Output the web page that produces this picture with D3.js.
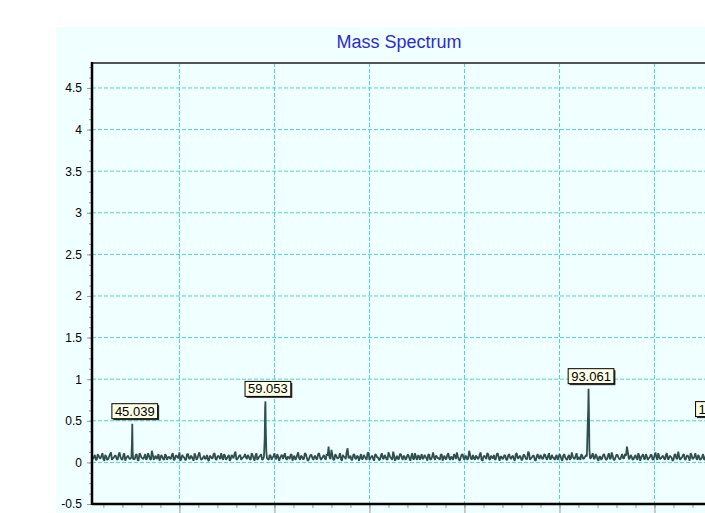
<!DOCTYPE html>
<html lang="en">
<head>
	<title>Mass Spectrum</title>
	<script src="https://d3js.org/d3.v7.min.js" charset="utf-8"></script>
	<style>
	body { margin: 0; background: #ffffff; }
	text {
		font-family: "Liberation Sans", Arial, sans-serif;
	}
	</style>
</head>
<body>
	<script>
	// Noise baseline (in hundredths). Two interleaved reading sets:
	// set A at 40.9 + 0.2*i, set B at 41.0 + 0.2*i
	var noiseStartA = 40.9;
	var noiseStartB = 41.0;
	var noiseStep = 0.2;
	var noiseValuesA = [
		4,9,3,8,5,11,2,7,4,10,3,6,8,3,12,4,9,2,7,5,
		3,8,4,10,2,9,5,7,3,11,4,14,3,8,6,2,9,4,10,3,
		7,4,11,3,8,5,2,9,6,3,10,4,7,2,8,5,12,3,6,4,
		9,2,7,5,11,3,8,4,6,10,3,7,2,9,5,13,4,8,3,6,
		10,4,7,3,9,2,11,5,8,3,6,12,4,9,3,7,5,10,2,8,
		4,11,3,6,9,2,8,5,12,3,7,4,10,2,6,9,3,8,4,11,
		3,7,5,10,19,4,9,3,8,5,11,2,7,4,17,6,3,9,5,8,
		2,10,4,7,3,12,5,8,2,9,6,3,11,4,7,3,9,5,13,2,
		8,4,10,3,7,5,9,2,11,4,6,8,3,10,5,7,2,9,4,12,
		3,7,5,9,2,8,4,11,3,6,10,4,7,2,9,5,8,3,14,4,
		9,3,7,5,12,2,8,4,10,3,6,9,4,11,2,7,5,8,3,10,
		4,8,2,11,5,7,3,9,4,13,3,6,8,2,10,4,7,5,9,3,
		11,4,6,3,9,5,8,2,10,4,7,3,12,5,8,3,6,10,4,7,
		3,9,5,11,4,8,2,7,5,10,3,8,4,12,3,6,9,4,7,5,
		10,19,4,9,3,7,5,11,2,8,4,10,3,6,9,4,12,3,7,5,
		8,3,11,4,7,2,9,5,13,3,6,10,4,8,2,9,5,11,3,7,
		4,10,3,8,5,12,2,7,4,9,3,11,5,6,8,3,10,4,7,5
	];
	var noiseValuesB = [
		6,3,10,5,8,4,9,3,7,12,5,8,4,9,6,3,11,5,8,4,
		7,5,9,3,11,6,4,10,5,8,3,9,6,4,10,5,7,3,8,6,
		5,9,3,8,6,12,4,7,3,10,5,8,4,11,3,9,6,4,8,5,
		3,8,5,10,4,7,6,11,3,8,5,9,4,7,10,3,6,9,5,7,
		6,9,4,11,5,8,3,7,10,4,9,5,3,8,6,11,4,7,5,9,
		8,5,7,4,10,6,3,9,5,8,4,11,6,3,9,5,7,4,10,6,
		5,9,3,8,6,15,3,10,5,7,4,9,6,12,5,8,3,10,4,7,
		6,4,9,5,11,3,7,4,10,6,3,8,5,9,4,12,6,3,8,5,
		4,10,6,8,3,9,5,7,4,11,3,8,6,4,9,5,10,3,7,6,
		8,5,3,10,6,4,9,5,7,3,8,12,4,6,10,3,7,5,9,4,
		5,8,4,9,3,7,6,11,4,8,5,3,10,6,7,4,9,3,8,6,
		7,4,10,5,8,3,9,6,4,11,5,8,3,7,6,9,4,10,5,8,
		4,9,5,7,3,10,4,8,6,3,9,5,7,4,11,6,3,8,5,9,
		6,3,8,5,10,4,7,3,9,6,4,11,5,8,3,9,6,4,10,5,
		8,12,5,7,4,9,3,8,6,10,4,7,5,9,3,8,6,11,4,7,
		5,9,4,8,6,3,10,4,7,5,9,3,8,6,11,4,7,5,9,3,
		6,4,9,5,7,3,10,6,4,8,5,9,3,7,6,10,4,8,5,6
	];

	// Peak profiles (m/z, intensity)
	var profileMz  = [44.95, 45.0, 45.039, 45.08, 45.13,
		58.9, 58.98, 59.02, 59.053, 59.09, 59.15, 59.22,
		92.88, 92.97, 93.02, 93.061, 93.1, 93.15, 93.22,
		106.75, 106.8, 106.85, 106.9, 106.96];
	var profileInt = [0.06, 0.22, 0.465, 0.12, 0.04,
		0.07, 0.3, 0.66, 0.733, 0.4, 0.12, 0.05,
		0.07, 0.44, 0.62, 0.886, 0.62, 0.15, 0.05,
		0.08, 0.3, 0.49, 0.18, 0.05];

	// Labelled peaks
	var peakMz = [45.039, 59.053, 93.061, 106.85];
	var peakHeight = [0.465, 0.733, 0.886, 0.49];
	var peakLabels = ["45.039", "59.053", "93.061", "106.850"];

	// Axis ticks
	var yTicks = [-0.5, 0, 0.5, 1, 1.5, 2, 2.5, 3, 3.5, 4, 4.5];
	var yMinorTicks = d3.range(-0.5, 4.8, 0.125);
	var xTicks = [50, 60, 70, 80, 90, 100, 110];
	var xMinorTicks = d3.range(42, 112, 2);

	var w = 705;
	var h = 513;
	var plotLeft = 92, plotTop = 63, plotBottom = 504, plotRight = 759;

	var svg = d3.select("body")
		.append("svg")
		.attr("width", w)
		.attr("height", h);

	// chart background
	svg.append("rect")
		.attr("x", 56)
		.attr("y", 27)
		.attr("width", 720)
		.attr("height", 520)
		.attr("fill", "#f0ffff");

	var x = d3.scaleLinear().domain([40.8, 111]).range([plotLeft, plotRight]);
	var y = d3.scaleLinear().domain([-0.5, 4.8]).range([plotBottom, plotTop]);

	// title
	svg.append("text")
		.attr("x", 399)
		.attr("y", 48)
		.attr("text-anchor", "middle")
		.attr("font-size", "18px")
		.attr("fill", "#2b2bd6")
		.text("Mass Spectrum");

	// dashed grid
	svg.selectAll(".hgrid")
		.data(yTicks.slice(1))
		.enter()
		.append("line")
		.attr("x1", plotLeft).attr("x2", plotRight)
		.attr("y1", function(d){ return y(d); })
		.attr("y2", function(d){ return y(d); })
		.attr("stroke", "#4fd2d2")
		.attr("stroke-width", 1)
		.attr("stroke-dasharray", "4,2");

	svg.selectAll(".vgrid")
		.data(xTicks)
		.enter()
		.append("line")
		.attr("y1", plotTop).attr("y2", plotBottom)
		.attr("x1", function(d){ return x(d); })
		.attr("x2", function(d){ return x(d); })
		.attr("stroke", "#4fd2d2")
		.attr("stroke-width", 1)
		.attr("stroke-dasharray", "4,2");

	// build the spectrum: noise (away from peaks) + peak profiles
	var spectrum = [];
	function addNoise(values, start){
		values.forEach(function(v, i){
			var mz = start + i * noiseStep;
			var nearPeak = peakMz.some(function(p){ return Math.abs(p - mz) < 0.18; });
			if (!nearPeak) spectrum.push([mz, v / 100]);
		});
	}
	addNoise(noiseValuesA, noiseStartA);
	addNoise(noiseValuesB, noiseStartB);
	profileMz.forEach(function(mz, i){ spectrum.push([mz, profileInt[i]]); });
	spectrum.sort(function(a, b){ return a[0] - b[0]; });

	var line = d3.line()
		.x(function(d){ return x(d[0]); })
		.y(function(d){ return y(d[1]); });

	svg.append("path")
		.datum(spectrum)
		.attr("d", line)
		.attr("fill", "none")
		.attr("stroke", "#2f4f4f")
		.attr("stroke-width", 1.8)
		.attr("stroke-linejoin", "bevel");

	// y axis ticks and labels
	var yMinor = svg.append("g")
		.attr("transform", "translate(" + plotLeft + ",0)")
		.call(d3.axisLeft(y).tickValues(yMinorTicks).tickSize(3).tickFormat(""));
	var yAxis = svg.append("g")
		.attr("transform", "translate(" + plotLeft + ",0)")
		.call(d3.axisLeft(y).tickValues(yTicks).tickSize(5).tickPadding(5)
			.tickFormat(function(d){ return String(d); }));
	[yMinor, yAxis].forEach(function(g){
		g.select(".domain").remove();
		g.selectAll("line").attr("stroke", "#999");
	});
	yAxis.selectAll("text")
		.attr("font-size", "12px")
		.attr("fill", "#000")
		.style("font-family", "'Liberation Sans', Arial, sans-serif");

	// x axis ticks (the labels lie below the picture, so none are drawn)
	var xMinor = svg.append("g")
		.attr("transform", "translate(0," + plotBottom + ")")
		.call(d3.axisBottom(x).tickValues(xMinorTicks).tickSize(4).tickFormat(""));
	var xAxis = svg.append("g")
		.attr("transform", "translate(0," + plotBottom + ")")
		.call(d3.axisBottom(x).tickValues(xTicks).tickSize(9).tickFormat(""));
	[xMinor, xAxis].forEach(function(g){
		g.select(".domain").remove();
		g.selectAll("line").attr("stroke", "#999");
	});

	// frame
	svg.append("line")
		.attr("x1", plotLeft).attr("x2", plotRight)
		.attr("y1", plotTop).attr("y2", plotTop)
		.attr("stroke", "#555").attr("stroke-width", 2);
	svg.append("line")
		.attr("x1", plotLeft).attr("x2", plotLeft)
		.attr("y1", plotTop - 1).attr("y2", plotBottom + 1)
		.attr("stroke", "#000").attr("stroke-width", 2.5);
	svg.append("line")
		.attr("x1", plotLeft).attr("x2", plotRight)
		.attr("y1", plotBottom).attr("y2", plotBottom)
		.attr("stroke", "#000").attr("stroke-width", 2.5);

	// peak labels
	var tags = svg.selectAll(".tag")
		.data(peakMz)
		.enter()
		.append("g")
		.attr("class", "tag");

	tags.each(function(d, i){
		var g = d3.select(this);
		var txt = g.append("text")
			.attr("font-size", "13px")
			.attr("fill", "#000")
			.text(peakLabels[i]);
		var tw = txt.node().getComputedTextLength();
		var bw = tw + 6, bh = 15;
		var cx = x(d) + 2.5;
		var by = y(peakHeight[i]) - 5 - bh;
		g.insert("rect", "text")
			.attr("x", cx - bw / 2 + 1.5).attr("y", by + 1.5)
			.attr("width", bw).attr("height", bh)
			.attr("fill", "#333");
		g.insert("rect", "text")
			.attr("x", cx - bw / 2).attr("y", by)
			.attr("width", bw).attr("height", bh)
			.attr("fill", "#ffffe6")
			.attr("stroke", "#000")
			.attr("stroke-width", 1);
		txt.attr("x", cx).attr("y", by + bh - 3)
			.attr("text-anchor", "middle");
	});
	</script>
</body>
</html>
